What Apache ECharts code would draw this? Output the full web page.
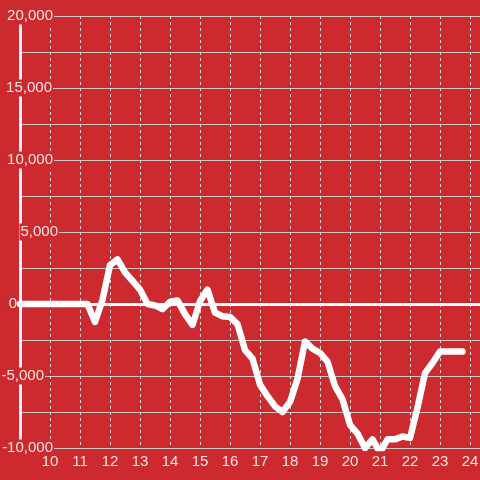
<!DOCTYPE html>
<html>
<head>
<meta charset="utf-8">
<script src="https://cdn.jsdelivr.net/npm/echarts@6/dist/echarts.min.js"></script>
<style>
html,body{margin:0;padding:0;background:#cc2a2f;}
#chart{width:480px;height:480px;}
</style>
</head>
<body>
<div id="chart"></div>
<script>
const xValues = [9, 9.25, 9.5, 9.75, 10, 10.25, 10.5, 10.75, 11, 11.25,
  11.5, 11.75, 12, 12.25, 12.5, 12.75, 13, 13.25, 13.5, 13.75,
  14, 14.25, 14.5, 14.75, 15, 15.25, 15.5, 15.75, 16, 16.25,
  16.5, 16.75, 17, 17.25, 17.5, 17.75, 18, 18.25, 18.5, 18.75,
  19, 19.25, 19.5, 19.75, 20, 20.25, 20.5, 20.75, 21, 21.25,
  21.5, 21.75, 22, 22.25, 22.5, 22.75, 23, 23.25, 23.5, 23.75];
const yValues = [0, 0, 0, 0, 0, 0, 0, 0, 0, 0,
  -1250, 300, 2700, 3100, 2200, 1600, 1000, 0, -100, -350,
  150, 250, -700, -1450, 200, 1000, -600, -850, -900, -1400,
  -3200, -3800, -5600, -6400, -7100, -7500, -6800, -5200, -2600, -3100,
  -3400, -4000, -5700, -6600, -8400, -9000, -10000, -9400, -10300, -9400,
  -9400, -9200, -9300, -7200, -4800, -4100, -3300, -3300, -3300, -3300];
const yTicks = [-10000, -5000, 0, 5000, 10000, 15000, 20000];
const xTicks = [10, 11, 12, 13, 14, 15, 16, 17, 18, 19, 20, 21, 22, 23, 24];
// horizontal shift (px, towards the left) of each y tick label, as in the picture
const yLabelShift = { '20000': 5, '15000': 6, '10000': 5, '5000': 0, '0': 41, '-5000': 14, '-10000': 5 };

const red = '#cc2a2f';
const textColor = '#f3e4e4';
const seriesData = xValues.map((x, i) => [x, yValues[i]]);

const rich = { t: { color: textColor, fontSize: 15, fontFamily: 'Liberation Sans, Arial, sans-serif', backgroundColor: red, padding: [1, 1] } };
Object.keys(yLabelShift).forEach((k, i) => {
  rich['s' + i] = { width: yLabelShift[k], fontSize: 15, color: 'rgba(0,0,0,0)' };
});
const shiftKeys = Object.keys(yLabelShift);

const chart = echarts.init(document.getElementById('chart'));
chart.setOption({
  backgroundColor: red,
  animation: false,
  grid: { left: 20, right: 0, top: 16, bottom: 32, containLabel: false, outerBoundsMode: 'none' },
  xAxis: [{
    type: 'value', min: 9, max: 24.3333, interval: 1,
    axisLine: { show: false, onZero: false },
    axisTick: { show: false },
    axisLabel: {
      color: textColor, fontSize: 15, fontFamily: 'Liberation Sans, Arial, sans-serif', margin: 6,
      formatter: v => xTicks.includes(v) ? String(v) : ''
    },
    splitLine: { show: true, showMinLine: false, showMaxLine: false, lineStyle: { color: '#ead6d6', width: 1, type: [3, 3] } }
  }, {
    type: 'value', min: 9, max: 24.3333, position: 'top',
    axisLine: { show: true, onZero: true, lineStyle: { color: '#ffffff', width: 3 } },
    axisTick: { show: false }, axisLabel: { show: false }, splitLine: { show: false }
  }],
  yAxis: {
    type: 'value', min: -10000, max: 20000, interval: 5000,
    axisLine: { show: true, lineStyle: { color: '#f2f2f2', width: 3 } },
    axisTick: { show: false },
    minorTick: { show: false, splitNumber: 2 },
    minorSplitLine: { show: true, lineStyle: { color: '#cfc6c6', width: 1 } },
    splitLine: { show: true, lineStyle: { color: '#cfc6c6', width: 1 } },
    axisLabel: {
      margin: -39, rich: rich,
      formatter: v => {
        if (!yTicks.includes(v)) return '';
        const idx = shiftKeys.indexOf(String(v));
        const s = yLabelShift[String(v)] > 0 ? '{s' + idx + '| }' : '';
        return '{t|' + v.toLocaleString('en-US') + '}' + s;
      }
    }
  },
  series: [{
    type: 'line', xAxisIndex: 0, data: seriesData, showSymbol: false,
    lineStyle: { color: '#ffffff', width: 6.5, cap: 'round', join: 'round' },
    itemStyle: { color: '#ffffff' }
  }]
});
</script>
</body>
</html>
